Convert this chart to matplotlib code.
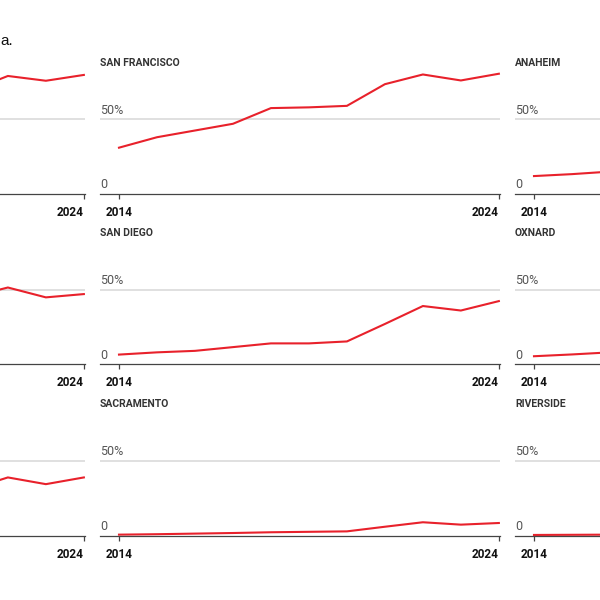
import matplotlib
matplotlib.use('Agg')
import matplotlib.pyplot as plt

plt.rcParams['font.family'] = ['Liberation Sans Narrow', 'Roboto', 'DejaVu Sans']

years = list(range(2014, 2025))

# share (%) by city
san_francisco = [31, 38, 42.5, 47, 57.5, 58, 59, 73.5, 80, 76, 80.5]
san_diego = [6.5, 8, 9, 11.5, 14, 14, 15.3, 27, 39, 36, 42.3]
sacramento = [0.7, 1, 1.4, 1.8, 2.3, 2.6, 2.9, 6, 9, 7.4, 8.5]

# only the right end of the left column is visible
left_years = [2021, 2022, 2023, 2024]
left_top = [69, 79, 75.8, 79.7]
left_mid = [45, 51.4, 44.8, 47]
left_bot = [31, 39, 34.5, 39]

# only the left end of the right column is visible
right_years = [2014, 2015, 2016]
anaheim = [12, 13.3, 15]
oxnard = [5.4, 6.6, 8]
riverside = [0.5, 0.6, 0.7]

RED = '#e8212b'
W, H = 600, 600

fig = plt.figure(figsize=(6, 6), dpi=100)


def make_panel(left_px, base_px, title, xs, ys, ticks=(2014, 2024), ylabels=True):
    '''
    One small chart, placed by pixel position in the 600x600 picture
    '''
    px_per_pct = 74.7 / 50
    ymax = 85
    height_px = ymax * px_per_pct
    ax = fig.add_axes([left_px / W, 1 - base_px / H, 400 / W, height_px / H])
    ax.set_xlim(2013.5, 2024.03)
    ax.set_ylim(0, ymax)
    for s in ['top', 'right', 'left']:
        ax.spines[s].set_visible(False)
    ax.spines['bottom'].set_color('#444444')
    ax.spines['bottom'].set_linewidth(0.9)
    ax.axhline(50, color='#dddddd', lw=1.3, zorder=0)
    ax.set_yticks([])
    ax.set_xticks(list(ticks))
    ax.set_xticklabels([str(t) for t in ticks], fontsize=8.5, fontweight='bold', color='#111111')
    for lab, t in zip(ax.get_xticklabels(), ticks):
        lab.set_ha('center' if t == 2014 else 'right')
    ax.tick_params(axis='x', length=3.5, width=0.9, color='#444444', pad=5)
    if ylabels:
        for val, txt in [(0, '0'), (50, '50%')]:
            ax.annotate(txt, xy=(0, val), xycoords=('axes fraction', 'data'),
                        xytext=(0, 2), textcoords='offset points',
                        ha='left', va='bottom', fontsize=9, color='#555555')
    if title:
        ax.annotate(title, xy=(0, 1), xycoords='axes fraction',
                    xytext=(0, 1), textcoords='offset points',
                    ha='left', va='baseline', fontsize=7.5, fontweight='bold', color='#333333')
    ax.plot(xs, ys, color=RED, lw=1.5, clip_on=False, solid_joinstyle='miter')
    return ax


bases = [194, 364.3, 535.7]

make_panel(100 - 415, bases[0], '', left_years, left_top, ticks=(2024,), ylabels=False)
make_panel(100 - 415, bases[1], '', left_years, left_mid, ticks=(2024,), ylabels=False)
make_panel(100 - 415, bases[2], '', left_years, left_bot, ticks=(2024,), ylabels=False)

make_panel(100, bases[0], 'SAN FRANCISCO', years, san_francisco)
make_panel(100, bases[1], 'SAN DIEGO', years, san_diego)
make_panel(100, bases[2], 'SACRAMENTO', years, sacramento)

make_panel(515, bases[0], 'ANAHEIM', right_years, anaheim, ticks=(2014,))
make_panel(515, bases[1], 'OXNARD', right_years, oxnard, ticks=(2014,))
make_panel(515, bases[2], 'RIVERSIDE', right_years, riverside, ticks=(2014,))

fig.text(0.0, 1 - 45 / H, 'a.', fontsize=11, color='#111111', ha='left', va='baseline',
         family=['Liberation Sans', 'DejaVu Sans'])

fig.savefig('out.png', dpi=100)
